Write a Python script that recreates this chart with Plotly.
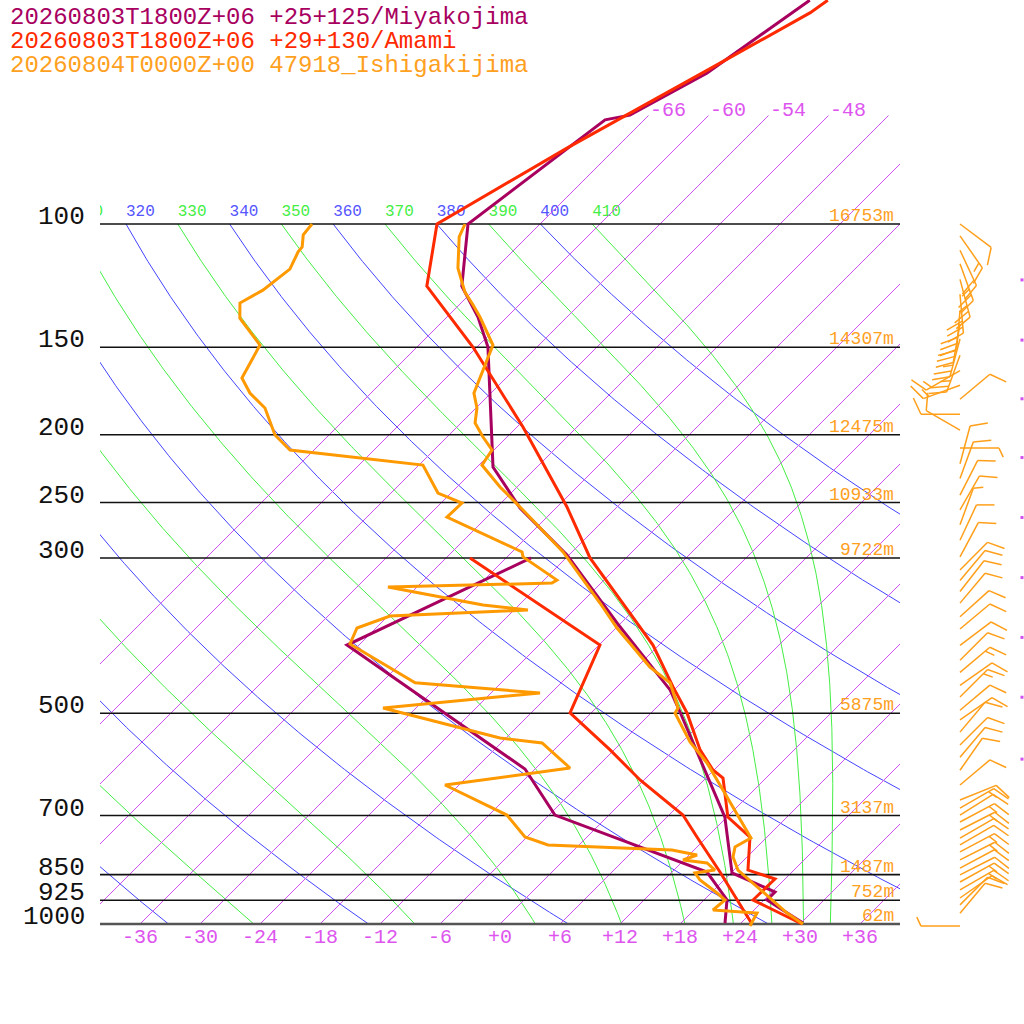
import numpy as np
import plotly.graph_objects as go

# ---- soundings (pressure hPa, temperature degC) ----
miya_t_p = [47.9, 60.9, 69.9, 71.0, 100, 122.7, 135.8, 149.9, 222.4, 254.5, 297.1,
            371.5, 463, 497.9, 703.6, 845.5, 900.1, 924.1, 996.7]
miya_t = [-61.4, -64.4, -67.9, -69.9, -73.2, -67.6, -62.9, -58.9, -46.4, -39.6, -30.2,
          -18.4, -6.4, -3.2, 11.8, 18.1, 24.3, 24.3, 30.2]
miya_td_p = [300, 399.5, 600.6, 698.8, 842.8, 924.1, 996.7]
miya_td = [-33.5, -43.2, -13.0, -5.4, 15.5, 20.3, 22.4]

amami_t_p = [47.9, 49.9, 59.7, 77.9, 100, 122.7, 149.9, 161.6, 195, 253.7, 300, 399.5,
             458.5, 499.5, 564, 602.6, 618.6, 703.6, 751.2, 837.4, 862.4, 924.1, 1000]
amami_t = [-59.6, -60.1, -64.4, -70.9, -76.3, -71.1, -60.4, -56.7, -47.4, -35.0, -27.6, -12.6,
           -6.4, -2.4, 2.6, 5.9, 7.7, 12.1, 16.3, 19.4, 23.0, 22.9, 30.2]
amami_td_p = [300, 399.5, 499.5, 564, 622.6, 698.8, 751.2, 842.8, 1000]
amami_td = [-39.6, -17.9, -14.1, -6.4, -0.4, 7.4, 11.0, 16.8, 25.2]

ishi_t_p = [100, 104.3, 115.6, 125.1, 130.5, 135.8, 148.9, 156.4, 165.4, 174.4, 183.2, 192.4,
            201.5, 210.3, 221.0, 237.5, 256.2, 294.1, 347.9, 377.7, 429.5, 452.4, 491.3, 499.5,
            549.5, 588.8, 633.0, 710.1, 753.7, 776.2, 802.1, 837.4, 873.8, 964.5, 1000]
ishi_t = [-73.5, -72.8, -69.8, -66.7, -64.6, -62.7, -58.6, -57.7, -56.7, -55.7, -53.9, -52.6,
          -50.4, -48.2, -47.7, -43.7, -39.1, -30.9, -22.1, -17.9, -10.7, -7.1, -3.8, -3.6,
          0.8, 4.6, 8.1, 13.6, 16.5, 15.8, 16.6, 18.4, 21.2, 27.6, 30.3]
ishi_td_p = [100, 103.6, 107.8, 109.6, 116.0, 124.3, 129.7, 136.3, 148.9, 166.0, 174.4, 183.2,
             200.2, 210.3, 221.0, 242.3, 250.4, 262.2, 294.1, 299.0, 322.6, 325.8, 330.1, 350.2,
             356.0, 363.1, 377.7, 398.1, 452.4, 467.7, 491.3, 542.4, 551.2, 598.6, 633.0, 698.8,
             751.2, 771.2, 784.1, 796.9, 810.1, 818.1, 837.4, 845.5, 865.3, 903.0, 924.1, 955.0,
             964.5, 1006.6]
ishi_td = [-88.8, -88.6, -87.5, -87.4, -86.5, -87.1, -88.1, -86.6, -81.9, -80.4, -78.1, -75.1,
           -71.4, -68.4, -53.6, -49.3, -45.9, -46.0, -35.0, -34.4, -28.7, -28.9, -44.9, -33.6,
           -28.6, -41.8, -43.9, -43.0, -32.6, -19.1, -33.3, -18.6, -13.9, -8.6, -19.4, -10.2,
           -6.2, -3.1, 9.8, 12.8, 11.9, 14.6, 16.1, 14.4, 15.6, 18.6, 20.1, 19.9,
           24.6, 25.2]

# Ishigakijima winds (hPa, direction deg, speed kt)
wind_p = [100, 104, 109, 114, 120, 126, 133, 139, 146, 154, 162, 170, 178, 187, 197, 209,
          220, 231, 244, 256, 269, 283, 299, 312, 323, 335, 348, 364, 379, 400, 420, 437,
          456, 474, 495, 511, 532, 555, 578, 603, 633, 665, 683, 699, 715, 734, 754, 771,
          789, 810, 832, 851, 871, 894, 918, 939, 965, 1007]
wind_dir = [127, 145, 155, 160, 165, 175, 185, 190, 195, 200, 240, 250, 50, 270, 300, 90,
            15, 20, 27, 30, 20, 25, 28, 45, 40, 38, 40, 48, 50, 53, 45, 50,
            55, 45, 50, 55, 40, 45, 40, 35, 50, 68, 60, 58, 62, 63, 60, 60,
            62, 63, 62, 63, 61, 60, 55, 45, 40, 270]
wind_spd = [10, 15, 20, 25, 25, 30, 30, 30, 25, 25, 15, 15, 10, 10, 10, 5,
            10, 10, 10, 10, 5, 10, 10, 10, 10, 10, 10, 10, 10, 10, 10, 15,
            10, 15, 10, 10, 10, 10, 10, 10, 10, 10, 15, 10, 15, 15, 10, 10,
            15, 15, 10, 10, 15, 15, 10, 10, 10, 5]

# diagram furniture
isobars = [100, 150, 200, 250, 300, 500, 700, 850, 925, 1000]
heights = ["16753m", "14307m", "12475m", "10933m", "9722m", "5875m", "3137m", "1487m", "752m", "62m"]
isotherms = list(range(-66, 37, 6))
dry_theta = list(range(240, 401, 20))
moist_theta = list(range(250, 411, 20))
edge_dots_p = [120.2, 146.5, 177.7, 215.6, 262.6, 320.0, 389.6, 474.3, 581.4]

legend = [("20260803T1800Z+06 +25+125/Miyakojima", "#a8005f"),
          ("20260803T1800Z+06 +29+130/Amami", "#ff2a00"),
          ("20260804T0000Z+00 47918_Ishigakijima", "#ffa01e")]

FONT = "Liberation Mono"
SKEW = 70.0          # degC per decade of pressure
KAPPA = 0.2857
ISO_COLOR = "#d050f0"


def skx(t, p):
    return np.asarray(t, float) + SKEW * np.log10(1000.0 / np.asarray(p, float))


def p_from_px(py):
    return 1000.0 * 10 ** (-(924.0 - py) / 700.0)


def px_from_p(p):
    return 924.0 - 700.0 * np.log10(1000.0 / p)


def moist_adiabat(theta_top, plev):
    Rd, cp, Lv, eps = 287.04, 1005.7, 2.501e6, 0.622

    def f(T, p):
        es = 6.112 * np.exp(17.67 * (T - 273.15) / (T - 29.65))
        rs = eps * es / (p - es)
        return (Rd * T + Lv * rs) / (cp + Lv * Lv * rs * eps / (Rd * T * T))

    T = theta_top * (plev[0] / 1000.0) ** KAPPA
    out = [T]
    for p0, p1 in zip(plev[:-1], plev[1:]):
        h = np.log(p1) - np.log(p0)
        pm = np.exp(np.log(p0) + h / 2)
        k1 = f(T, p0)
        k2 = f(T + h * k1 / 2, pm)
        k3 = f(T + h * k2 / 2, pm)
        k4 = f(T + h * k3, p1)
        T = T + h * (k1 + 2 * k2 + 2 * k3 + k4) / 6
        out.append(T)
    return np.array(out) - 273.15


fig = go.Figure()
plev = np.logspace(2, 3, 300)

# isotherms as straight shapes, clipped to the diagram between 1000 and 70 hPa
shapes = []
u_top = np.log10(1000.0 / 70.0)
for t in isotherms:
    u0 = max(0.0, (-40.0 - t) / SKEW)
    u1 = min(u_top, (40.0 - t) / SKEW)
    if u1 <= u0:
        continue
    shapes.append(dict(type="line", xref="x2", yref="y", layer="below",
                       x0=t + SKEW * u0, x1=t + SKEW * u1,
                       y0=1000.0 / 10 ** u0, y1=1000.0 / 10 ** u1,
                       line=dict(color=ISO_COLOR, width=1)))

# dry adiabats
for th in dry_theta:
    tt = th * (plev / 1000.0) ** KAPPA - 273.15
    fig.add_trace(go.Scatter(x=skx(tt, plev), y=plev, mode="lines",
                             line=dict(color="#4444ff", width=1), hoverinfo="skip"))
# moist adiabats
for th in moist_theta:
    tt = moist_adiabat(th, plev)
    fig.add_trace(go.Scatter(x=skx(tt, plev), y=plev, mode="lines",
                             line=dict(color="#44ee44", width=1), hoverinfo="skip"))

# theta labels along 100 hPa (clipped to the diagram)
lab_th = sorted(dry_theta + moist_theta)
lab_th = [th for th in lab_th if th >= 310]
lab_x = [th * 0.1 ** KAPPA - 273.15 + SKEW for th in lab_th]
lab_col = ["#5555ff" if th in dry_theta else "#44ee44" for th in lab_th]
fig.add_trace(go.Scatter(x=lab_x, y=[p_from_px(212)] * len(lab_th), mode="text",
                         text=[str(th) for th in lab_th], textposition="middle right",
                         textfont=dict(family=FONT, size=16, color=lab_col),
                         hoverinfo="skip", cliponaxis=True))

# isobars
for p in isobars:
    fig.add_trace(go.Scatter(x=[-40, 40], y=[p, p], mode="lines", xaxis="x2",
                             line=dict(color="#555555" if p == 1000 else "#111111",
                                       width=2.4 if p == 1000 else 1.6),
                             hoverinfo="skip"))

# soundings
for pp, tt, col in [(miya_t_p, miya_t, "#a8005f"), (miya_td_p, miya_td, "#a8005f"),
                    (amami_t_p, amami_t, "#ff2a00"), (amami_td_p, amami_td, "#ff2a00"),
                    (ishi_t_p, ishi_t, "#ff9900"), (ishi_td_p, ishi_td, "#ff9900")]:
    fig.add_trace(go.Scatter(x=skx(tt, pp), y=pp, mode="lines", xaxis="x2",
                             line=dict(color=col, width=3), hoverinfo="skip"))

# wind barbs
bx, by = [], []


def seg(a, b):
    bx.extend([(a[0] - 500) / 10.0, (b[0] - 500) / 10.0, None])
    by.extend([p_from_px(a[1]), p_from_px(b[1]), None])


ca, sa = np.cos(np.radians(65)), np.sin(np.radians(65))
for p, d, s in zip(wind_p, wind_dir, wind_spd):
    x0, y0 = 960.0, px_from_p(p)
    ux, uy = np.sin(np.radians(d)), -np.cos(np.radians(d))
    L = 39.0
    seg((x0, y0), (x0 + L * ux, y0 + L * uy))
    vx, vy = ux * ca - uy * sa, ux * sa + uy * ca
    pos = L
    for i in range(int(s // 10)):
        a = (x0 + pos * ux, y0 + pos * uy)
        seg(a, (a[0] + 18 * vx, a[1] + 18 * vy))
        pos -= 6
    if s % 10 >= 5:
        a = (x0 + pos * ux, y0 + pos * uy)
        seg(a, (a[0] + 10 * vx, a[1] + 10 * vy))
fig.add_trace(go.Scatter(x=bx, y=by, mode="lines", xaxis="x2",
                         line=dict(color="#ff9f1a", width=1.5), hoverinfo="skip"))

fig.add_trace(go.Scatter(x=[(1022 - 500) / 10.0] * len(edge_dots_p), y=edge_dots_p,
                         mode="markers", xaxis="x2", hoverinfo="skip",
                         marker=dict(color=ISO_COLOR, size=3, symbol="square")))

ann = []
for p, h in zip(isobars, heights):
    ann.append(dict(x=-41.3, y=np.log10(p_from_px(px_from_p(p) - 7)), xref="x2", yref="y",
                    text=str(p), showarrow=False, xanchor="right", yanchor="middle",
                    font=dict(family=FONT, size=26, color="#111111")))
    ann.append(dict(x=39.6, y=np.log10(p_from_px(px_from_p(p) - 8)), xref="x2", yref="y",
                    text=h, showarrow=False, xanchor="right", yanchor="middle",
                    font=dict(family=FONT, size=18, color="#ffa01e")))
for t in isotherms:
    if t >= -36:
        ann.append(dict(x=t, y=np.log10(p_from_px(937)), xref="x2", yref="y",
                        text=("%+d" % t) if t >= 0 else str(t), showarrow=False,
                        xanchor="center", yanchor="middle",
                        font=dict(family=FONT, size=20, color="#dd55ee")))
    xe = float(skx(t, 70))
    if xe < 36:
        ann.append(dict(x=xe, y=np.log10(p_from_px(110)), xref="x2", yref="y",
                        text=str(t), showarrow=False, xanchor="left", yanchor="middle",
                        font=dict(family=FONT, size=20, color="#dd55ee")))
for i, (txt, col) in enumerate(legend):
    ann.append(dict(x=8 / 1024, y=1 - (17 + 24 * i) / 1024, xref="paper", yref="paper",
                    text=txt, showarrow=False, xanchor="left", yanchor="middle",
                    font=dict(family=FONT, size=24, color=col)))

fig.update_layout(
    width=1024, height=1024, autosize=False,
    margin=dict(l=0, r=0, t=0, b=0),
    paper_bgcolor="white", plot_bgcolor="rgba(0,0,0,0)",
    showlegend=False,
    xaxis=dict(domain=[100 / 1024, 900 / 1024], range=[-40, 40], visible=False),
    xaxis2=dict(domain=[0, 1], range=[-50, 52.4], visible=False, anchor="y"),
    yaxis=dict(type="log", range=[3 + 100 / 700, 3 - 924 / 700], domain=[0, 1], visible=False),
    annotations=ann,
    shapes=shapes,
)

fig.write_html("out.html", config={"displayModeBar": False},
               post_script="document.body.style.margin='0';")
